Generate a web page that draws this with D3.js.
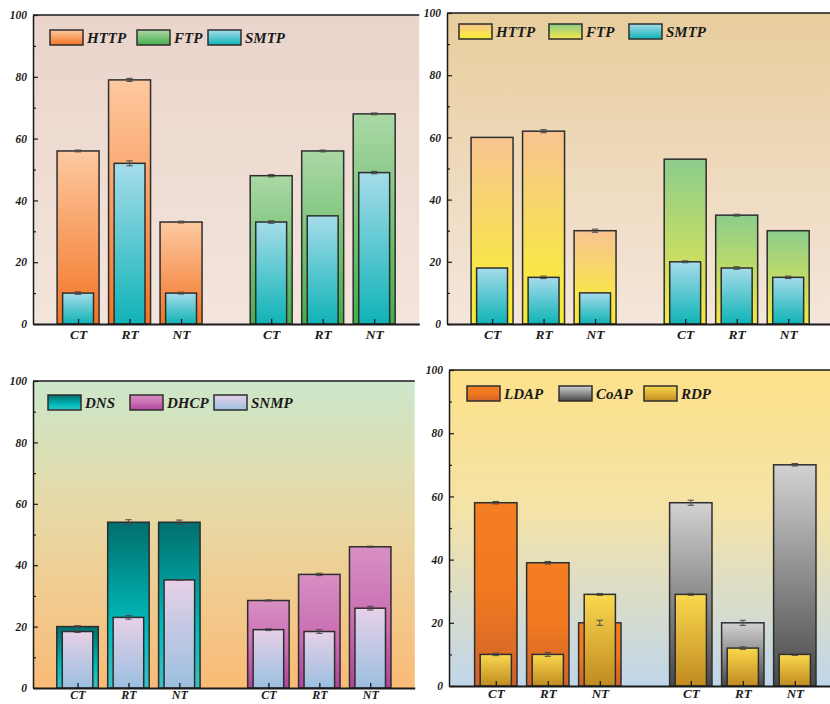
<!DOCTYPE html>
<html><head><meta charset="utf-8">
<script src="https://cdn.jsdelivr.net/npm/d3@7"></script>
<style>
html,body{margin:0;padding:0;background:#fff;}
svg{display:block;}
text{font-family:"Liberation Serif","Times New Roman",serif;font-weight:bold;font-style:italic;fill:#1a1a1a;}
</style></head>
<body><svg id="c" width="830" height="704"></svg>
<script>
// ---------------- DATA ----------------
const categories = ["CT", "RT", "NT"];
const yTicks = [0, 20, 40, 60, 80, 100];
const yMinorTicks = [10, 30, 50, 70, 90];

// Panel 1 (top-left)
const p1Legend = ["HTTP", "FTP", "SMTP"];
const p1HTTP = [56, 79, 33],   p1HTTPErr = [0.3, 0.5, 0.3];
const p1SMTPa = [10, 52, 10],  p1SMTPaErr = [0.4, 0.8, 0.3];
const p1FTP = [48, 56, 68],    p1FTPErr = [0.4, 0.3, 0.3];
const p1SMTPb = [33, 35, 49],  p1SMTPbErr = [0.4, 0, 0.4];

// Panel 2 (top-right)
const p2Legend = ["HTTP", "FTP", "SMTP"];
const p2HTTP = [60, 62, 30],   p2HTTPErr = [0, 0.5, 0.5];
const p2SMTPa = [18, 15, 10],  p2SMTPaErr = [0, 0.4, 0];
const p2FTP = [53, 35, 30],    p2FTPErr = [0, 0.3, 0];
const p2SMTPb = [20, 18, 15],  p2SMTPbErr = [0.3, 0.4, 0.4];

// Panel 3 (bottom-left)
const p3Legend = ["DNS", "DHCP", "SNMP"];
const p3DNS = [20, 54, 54],       p3DNSErr = [0.3, 0.8, 0.7];
const p3SNMPa = [18.4, 23, 35.2], p3SNMPaErr = [0.3, 0.6, 0.2];
const p3DHCP = [28.5, 37, 46],    p3DHCPErr = [0.2, 0.4, 0.2];
const p3SNMPb = [19, 18.4, 26],   p3SNMPbErr = [0.3, 0.6, 0.6];

// Panel 4 (bottom-right)
const p4Legend = ["LDAP", "CoAP", "RDP"];
const p4LDAP = [58, 39, 20],   p4LDAPErr = [0.4, 0.4, 0.8];
const p4RDPa = [10, 10, 29],   p4RDPaErr = [0.4, 0.6, 0.3];
const p4CoAP = [58, 20, 70],   p4CoAPErr = [0.8, 0.8, 0.4];
const p4RDPb = [29, 12, 10],   p4RDPbErr = [0.3, 0.4, 0.3];

// ---------------- STYLE / LAYOUT ----------------
const gradients = {
  p1HTTP: [[0, "#fdc9a0"], [1, "#f27425"]],
  p1FTP:  [[0, "#abd8a5"], [1, "#45ad4b"]],
  SMTP:   [[0, "#a6dcea"], [1, "#0fb3b7"]],
  p2HTTP: [[0, "#f8c391"], [0.7, "#f8e64a"], [1, "#f5ea30"]],
  p2FTP:  [[0, "#8ccd8c"], [1, "#f3e846"]],
  DNS:    [[0, "#006f6d"], [0.65, "#00bcbd"], [1, "#3dbfc4"]],
  DHCP:   [[0, "#d78fc3"], [0.55, "#c96db1"], [1, "#ad459b"]],
  SNMP:   [[0, "#e7d0e8"], [1, "#9bbfe0"]],
  LDAP:   [[0, "#f57e22"], [0.5, "#f07820"], [1, "#d0632b"]],
  CoAP:   [[0, "#d2d2d2"], [1, "#484848"]],
  RDP:    [[0, "#fad84e"], [1, "#c08b20"]],
  bg1:    [[0, "#ead4cb"], [1, "#f3e5dc"]],
  bg2:    [[0, "#e8cd9c"], [1, "#f4e6dc"]],
  bg3:    [[0, "#cce7ca"], [0.45, "#e9d8a4"], [1, "#fabb76"]],
  bg4:    [[0, "#fde189"], [0.45, "#f4e3a8"], [1, "#c0d6ea"]]
};

const panels = [
  { left: 33,  top: 15,  bottom: 324, unit: 51.5, bg: "bg1", legendX: [17, 104, 175], legendY: 15,
    xFont: 13.5, xPad: 5,
    legend: p1Legend, legendGrad: ["p1HTTP", "p1FTP", "SMTP"],
    groups: [
      { outer: p1HTTP, outerErr: p1HTTPErr, outerGrad: "p1HTTP", inner: p1SMTPa, innerErr: p1SMTPaErr, innerGrad: "SMTP" },
      { outer: p1FTP,  outerErr: p1FTPErr,  outerGrad: "p1FTP",  inner: p1SMTPb, innerErr: p1SMTPbErr, innerGrad: "SMTP" } ] },
  { left: 447, top: 13,  bottom: 324, unit: 51.5, bg: "bg2", legendX: [12, 102, 182], legendY: 11,
    xFont: 13.5, xPad: 5,
    legend: p2Legend, legendGrad: ["p2HTTP", "p2FTP", "SMTP"],
    groups: [
      { outer: p2HTTP, outerErr: p2HTTPErr, outerGrad: "p2HTTP", inner: p2SMTPa, innerErr: p2SMTPaErr, innerGrad: "SMTP" },
      { outer: p2FTP,  outerErr: p2FTPErr,  outerGrad: "p2FTP",  inner: p2SMTPb, innerErr: p2SMTPbErr, innerGrad: "SMTP" } ] },
  { left: 33,  top: 381, bottom: 688, unit: 50.9, bg: "bg3", legendX: [15, 97, 181], legendY: 14,
    xFont: 12, xPad: 2,
    legend: p3Legend, legendGrad: ["DNS", "DHCP", "SNMP"],
    groups: [
      { outer: p3DNS,  outerErr: p3DNSErr,  outerGrad: "DNS",  inner: p3SNMPa, innerErr: p3SNMPaErr, innerGrad: "SNMP" },
      { outer: p3DHCP, outerErr: p3DHCPErr, outerGrad: "DHCP", inner: p3SNMPb, innerErr: p3SNMPbErr, innerGrad: "SNMP" } ] },
  { left: 449, top: 370, bottom: 686, unit: 52, offset: 0.9, bg: "bg4", legendX: [18, 110, 195], legendY: 16,
    xFont: 13, xPad: 3,
    legend: p4Legend, legendGrad: ["LDAP", "CoAP", "RDP"],
    groups: [
      { outer: p4LDAP, outerErr: p4LDAPErr, outerGrad: "LDAP", inner: p4RDPa, innerErr: p4RDPaErr, innerGrad: "RDP" },
      { outer: p4CoAP, outerErr: p4CoAPErr, outerGrad: "CoAP", inner: p4RDPb, innerErr: p4RDPbErr, innerGrad: "RDP" } ] }
];

// ---------------- DRAW ----------------
const svg = d3.select("#c");
const defs = svg.append("defs");
Object.entries(gradients).forEach(([id, stops]) => {
  const g = defs.append("linearGradient").attr("id", "g_" + id)
    .attr("x1", 0).attr("y1", 0).attr("x2", 0).attr("y2", 1);
  stops.forEach(([o, c]) => g.append("stop").attr("offset", o).attr("stop-color", c));
});

const STROKE = "#2e2e2e";
const XSPAN = 7.5;

panels.forEach(p => {
  const right = p.left + p.unit * XSPAN;
  const x = d3.scaleLinear().domain([0, XSPAN]).range([p.left, right]);
  const y = d3.scaleLinear().domain([0, 100]).range([p.bottom, p.top]);
  const off = p.offset !== undefined ? p.offset : 0.875;
  const pos = (g, i) => off + i + g * 3.75;
  const outerW = 0.815 * p.unit, innerW = 0.6 * p.unit;

  const g = svg.append("g");
  g.append("rect").attr("x", p.left).attr("y", p.top).attr("width", right - p.left)
    .attr("height", p.bottom - p.top).attr("fill", "url(#g_" + p.bg + ")");

  const errBar = (sel, cx, v, e) => {
    if (!e) return;
    const cw = 3.2;
    sel.append("line").attr("x1", cx).attr("x2", cx).attr("y1", y(v + e)).attr("y2", y(v - e))
      .attr("stroke", "#4a4a4a").attr("stroke-width", 1);
    [v + e, v - e].forEach(t => sel.append("line").attr("x1", cx - cw).attr("x2", cx + cw)
      .attr("y1", y(t)).attr("y2", y(t)).attr("stroke", "#4a4a4a").attr("stroke-width", 1));
  };

  p.groups.forEach((grp, gi) => {
    categories.forEach((c, i) => {
      const cx = x(pos(gi, i));
      const bg = g.append("g");
      bg.append("rect").attr("x", cx - outerW / 2).attr("y", y(grp.outer[i]))
        .attr("width", outerW).attr("height", y(0) - y(grp.outer[i]))
        .attr("fill", "url(#g_" + grp.outerGrad + ")").attr("stroke", STROKE).attr("stroke-width", 1.5);
      bg.append("rect").attr("x", cx - innerW / 2).attr("y", y(grp.inner[i]))
        .attr("width", innerW).attr("height", y(0) - y(grp.inner[i]))
        .attr("fill", "url(#g_" + grp.innerGrad + ")").attr("stroke", STROKE).attr("stroke-width", 1.5);
      errBar(bg, cx, grp.outer[i], grp.outerErr[i]);
      errBar(bg, cx, grp.inner[i], grp.innerErr[i]);
    });
  });

  // top border
  g.append("line").attr("x1", p.left).attr("x2", right).attr("y1", p.top).attr("y2", p.top)
    .attr("stroke", "#1a1a1a").attr("stroke-width", 1.5);

  // y axis
  const ya = g.append("g").attr("transform", `translate(${p.left},0)`)
    .call(d3.axisLeft(y).tickValues(yTicks).tickSizeInner(-5).tickSizeOuter(0).tickPadding(6));
  ya.select(".domain").attr("stroke", "#1a1a1a").attr("stroke-width", 1.5);
  ya.selectAll(".tick line").attr("stroke", "#1a1a1a").attr("stroke-width", 1.2);
  ya.selectAll(".tick text").attr("font-size", 11.5).attr("font-family", null).attr("fill", "#1a1a1a");
  const ym = g.append("g").attr("transform", `translate(${p.left},0)`)
    .call(d3.axisLeft(y).tickValues(yMinorTicks).tickSizeInner(-3).tickSizeOuter(0).tickFormat(""));
  ym.select(".domain").remove();
  ym.selectAll(".tick line").attr("stroke", "#1a1a1a").attr("stroke-width", 1.2);

  // x axis
  const xVals = [], xLabs = [];
  p.groups.forEach((grp, gi) => categories.forEach((c, i) => { xVals.push(pos(gi, i)); xLabs.push(c); }));
  const xa = g.append("g").attr("transform", `translate(0,${p.bottom})`)
    .call(d3.axisBottom(x).tickValues(xVals).tickFormat((d, i) => xLabs[i])
      .tickSizeInner(-5).tickSizeOuter(0).tickPadding(p.xPad));
  xa.select(".domain").attr("stroke", "#1a1a1a").attr("stroke-width", 1.8);
  xa.selectAll(".tick line").attr("stroke", "#1a1a1a").attr("stroke-width", 1.3);
  xa.selectAll(".tick text").attr("font-size", p.xFont).attr("font-family", null).attr("fill", "#1a1a1a");

  // legend
  p.legend.forEach((name, k) => {
    const lx = p.left + p.legendX[k], ly = p.top + p.legendY;
    g.append("rect").attr("x", lx).attr("y", ly).attr("width", 33).attr("height", 15)
      .attr("fill", "url(#g_" + p.legendGrad[k] + ")").attr("stroke", STROKE).attr("stroke-width", 1.5);
    g.append("text").attr("x", lx + 37).attr("y", ly + 12.5).attr("font-size", 15).text(name);
  });
});
</script></body></html>
